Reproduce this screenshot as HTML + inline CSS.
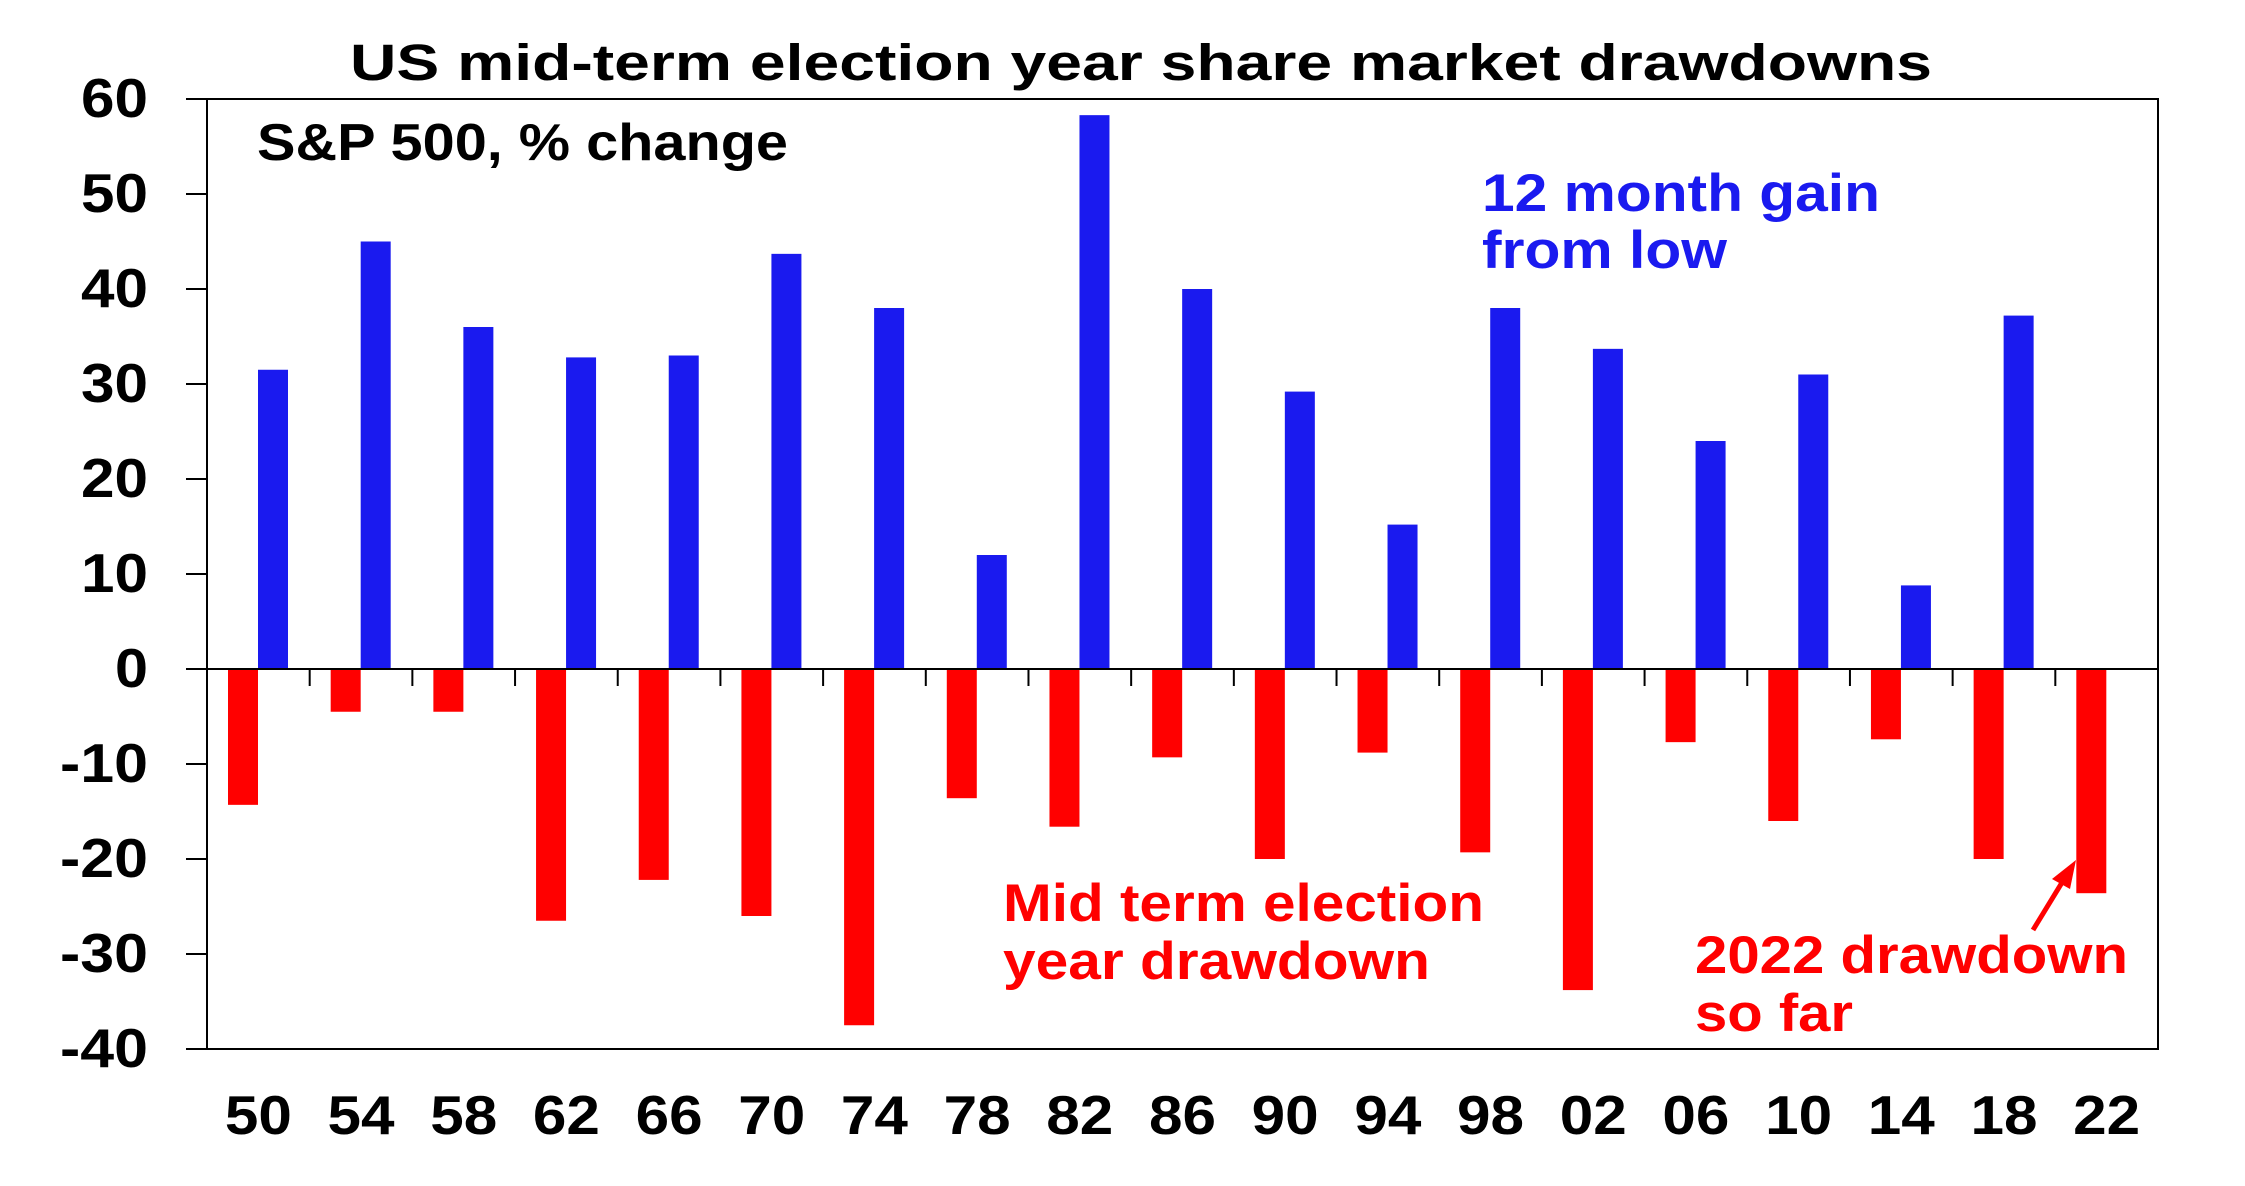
<!DOCTYPE html>
<html><head><meta charset="utf-8"><style>
html,body{margin:0;padding:0;background:#fff;}
svg{display:block;}
text{font-family:"Liberation Sans",Arial,sans-serif;font-weight:bold;}
</style></head><body>
<svg width="2245" height="1186" viewBox="0 0 2245 1186" xmlns="http://www.w3.org/2000/svg">
<rect width="2245" height="1186" fill="#fff"/>
<text x="350" y="80" font-size="51" textLength="1582" lengthAdjust="spacingAndGlyphs" fill="#000">US mid-term election year share market drawdowns</text>
<g id="bars"></g>
<rect x="207" y="99" width="1951" height="950" fill="none" stroke="#000" stroke-width="2"/>
<line x1="207" y1="669" x2="2158" y2="669" stroke="#000" stroke-width="2"/>
<g stroke="#000" stroke-width="2" id="ticks"></g>
<g font-size="55" text-anchor="end" fill="#000" id="ylab"></g>
<g font-size="55" text-anchor="middle" fill="#000" id="xlab"></g>
<text x="257" y="160" font-size="52" textLength="531" lengthAdjust="spacingAndGlyphs" fill="#000">S&amp;P 500, % change</text>
<text x="1482" y="211" font-size="53" textLength="398" lengthAdjust="spacingAndGlyphs" fill="#1a1aef">12 month gain</text>
<text x="1482" y="268" font-size="53" textLength="245" lengthAdjust="spacingAndGlyphs" fill="#1a1aef">from low</text>
<text x="1003" y="921" font-size="53" textLength="481" lengthAdjust="spacingAndGlyphs" fill="#ff0000">Mid term election</text>
<text x="1003" y="979" font-size="53" textLength="427" lengthAdjust="spacingAndGlyphs" fill="#ff0000">year drawdown</text>
<text x="1695" y="973" font-size="53" textLength="433" lengthAdjust="spacingAndGlyphs" fill="#ff0000">2022 drawdown</text>
<text x="1695" y="1031" font-size="53" textLength="158" lengthAdjust="spacingAndGlyphs" fill="#ff0000">so far</text>
<line x1="2033" y1="930" x2="2066" y2="876" stroke="#ff0000" stroke-width="5"/>
<polygon points="2076,860 2052,879 2070,889" fill="#ff0000"/>
</svg>
<script>
var blue=[31.5,45,36,32.8,33,43.7,38,12,58.3,40,29.2,15.2,38,33.7,24,31,8.8,37.2,null];
var red=[-14.3,-4.5,-4.5,-26.5,-22.2,-26,-37.5,-13.6,-16.6,-9.3,-20,-8.8,-19.3,-33.8,-7.7,-16,-7.4,-20,-23.6];
var labs=["50","54","58","62","66","70","74","78","82","86","90","94","98","02","06","10","14","18","22"];
var ns="http://www.w3.org/2000/svg";
function el(t,a,p){var e=document.createElementNS(ns,t);for(var k in a)e.setAttribute(k,a[k]);p.appendChild(e);return e;}
var z=669,u=9.5,gw=1951/19;
var B=document.getElementById("bars"),T=document.getElementById("ticks"),Y=document.getElementById("ylab"),X=document.getElementById("xlab");
for(var i=0;i<19;i++){
 var s=207+i*gw;
 el("rect",{x:s+21,y:z,width:30,height:-red[i]*u,fill:"#ff0000"},B);
 if(blue[i]!==null)el("rect",{x:s+51,y:z-blue[i]*u,width:30,height:blue[i]*u,fill:"#1a1aef"},B);
 if(i>0)el("line",{x1:s,y1:z,x2:s,y2:z+17},T);
 var t=el("text",{x:s+gw/2,y:1134,textLength:67,lengthAdjust:"spacingAndGlyphs"},X);t.textContent=labs[i];
}
for(var v=-40;v<=60;v+=10){
 var y=z-v*u;
 el("line",{x1:186,y1:y,x2:207,y2:y},T);
 var s2=String(v);
 var w=v==0?33:(v<0?88:67);
 var t=el("text",{x:148,y:y+18,textLength:w,lengthAdjust:"spacingAndGlyphs"},Y);t.textContent=s2;
}
</script>
</body></html>
